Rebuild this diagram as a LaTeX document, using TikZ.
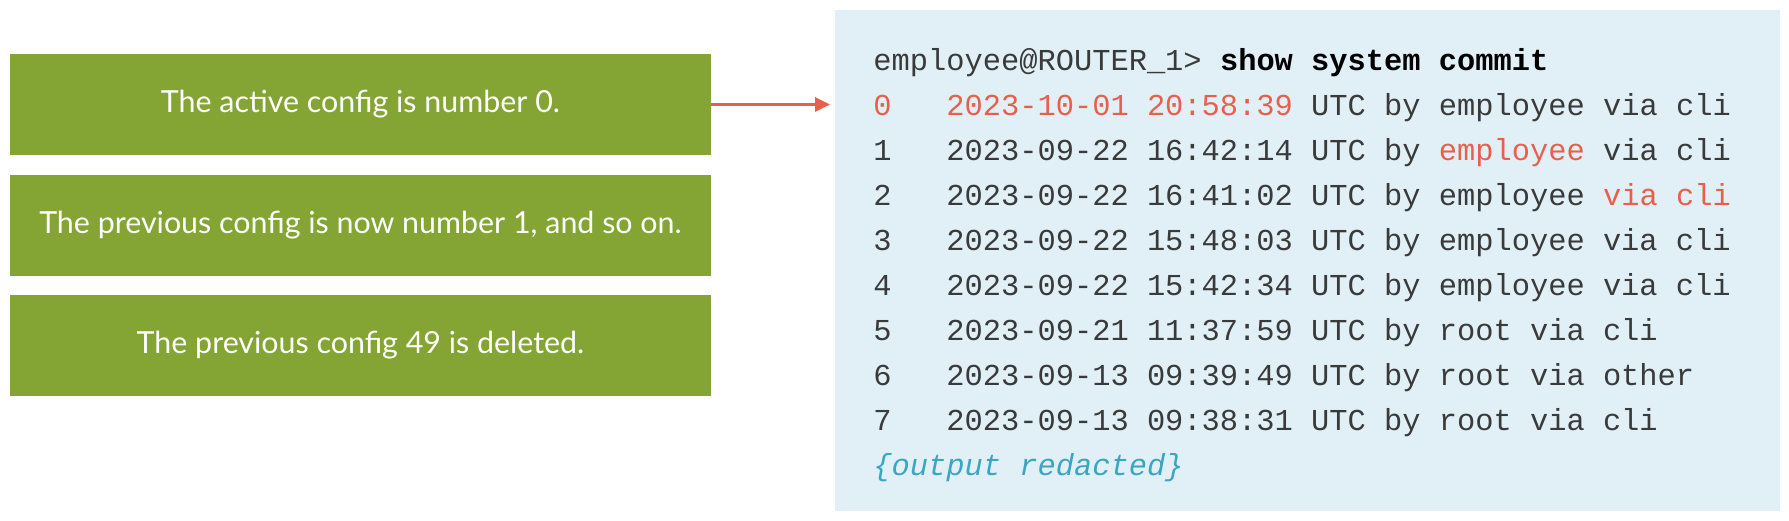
\documentclass[tikz,border=0pt]{standalone}
\usepackage{fontspec}
\setmainfont{Lato}
\setmonofont{Liberation Mono}
\usetikzlibrary{positioning}
\usetikzlibrary{arrows.meta}

\definecolor{boxgreen}{HTML}{84A534}
\definecolor{termbg}{HTML}{E1F0F7}
\definecolor{hilite}{HTML}{E8604C}
\definecolor{termtext}{HTML}{3A3A3A}
\definecolor{redact}{HTML}{3AA6C1}

\begin{document}
\begin{tikzpicture}
[x=0.5pt,y=-0.5pt,%
  stepbox/.style={rectangle,fill=boxgreen,text=white,inner sep=0pt,
    minimum width=350.5pt,minimum height=50.5pt,
    font=\fontsize{15.2pt}{18pt}\selectfont},%
  panel/.style={rectangle,fill=termbg,inner sep=0pt,
    minimum width=472.5pt,minimum height=250.5pt},%
  cli/.style={anchor=base west,inner sep=0pt,text=termtext,
    font=\ttfamily\fontsize{15.2pt}{19pt}\selectfont},%
  pointer/.style={draw=hilite,line width=1.5pt,-{Triangle[length=7.5pt,width=7pt]}}]
\useasboundingbox (0,0) rectangle (1789,520);
\node[panel] (term) at (1307.5,260.5) {};

\node[stepbox] (active) at (360.5,104.5) {The active config is number 0.};
\node[stepbox,below=9.5pt of active] (prev) {The previous config is now number 1, and so on.};
\node[stepbox,below=9pt of prev] (gone) {The previous config 49 is deleted.};

\coordinate (tip) at (830,104.5);
\draw[pointer] (active.east) -- (tip);

\node[cli] (prompt) at (873,70) {employee@ROUTER\_1> \textbf{\textcolor{black}{show system commit}}};
\node[cli] (c0) at (873,115.1) {\textcolor{hilite}{0~~~2023-10-01 20:58:39} UTC by employee via cli};
\node[cli] (c1) at (873,160.2) {1~~~2023-09-22 16:42:14 UTC by \textcolor{hilite}{employee} via cli};
\node[cli] (c2) at (873,205.3) {2~~~2023-09-22 16:41:02 UTC by employee \textcolor{hilite}{via cli}};
\node[cli] (c3) at (873,250.4) {3~~~2023-09-22 15:48:03 UTC by employee via cli};
\node[cli] (c4) at (873,295.5) {4~~~2023-09-22 15:42:34 UTC by employee via cli};
\node[cli] (c5) at (873,340.6) {5~~~2023-09-21 11:37:59 UTC by root via cli};
\node[cli] (c6) at (873,385.7) {6~~~2023-09-13 09:39:49 UTC by root via other};
\node[cli] (c7) at (873,430.8) {7~~~2023-09-13 09:38:31 UTC by root via cli};
\node[cli,text=redact] (more) at (873,475.9) {\itshape\{output redacted\}};
\end{tikzpicture}
\end{document}
